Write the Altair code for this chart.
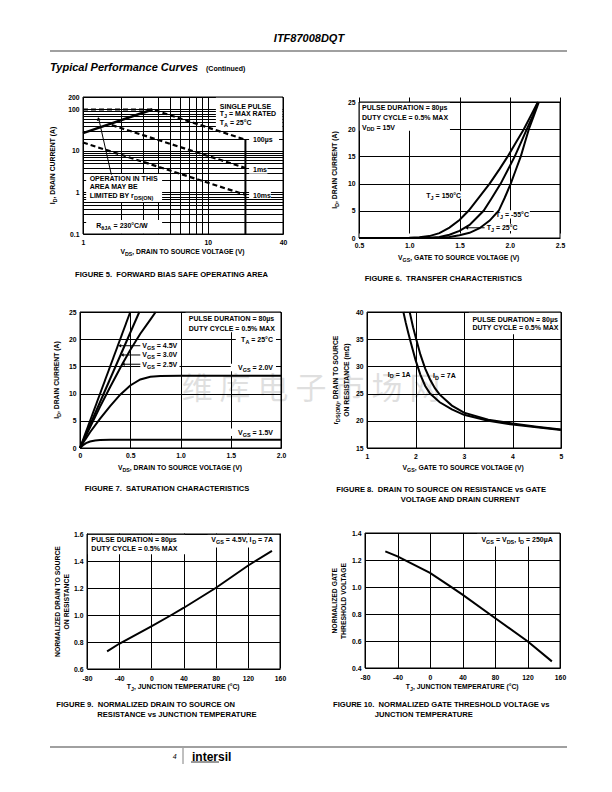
import re
import altair as alt
import pandas as pd

FONT = "Liberation Sans"
AXS = 6.8   # axis text size
ANS = 7.0   # annotation size
CAPS = 7.6  # caption size

# ---------------- data ----------------
# Figure 5 - forward bias safe operating area (log-log)
f5_x_grid = [1, 2, 3, 4, 5, 6, 7, 8, 9, 10, 40]
f5_y_grid = [0.1, 0.2, 0.3, 0.4, 0.5, 0.6, 0.7, 0.8, 0.9, 1, 2, 3, 4, 5, 6, 7, 8, 9,
             10, 20, 30, 40, 50, 60, 70, 80, 90, 100, 200]
f5_rds_v = [1.0, 3.6]
f5_rds_i = [27.0, 100.0]
f5_100us_v = [1.0, 3.6, 20.0]
f5_100us_i = [100.0, 100.0, 18.7]
f5_1ms_v = [1.7, 20.0]
f5_1ms_i = [42.0, 3.9]
f5_10ms_v = [1.0, 20.0]
f5_10ms_i = [16.0, 0.88]
f5_bv_v = [20.0, 20.0]
f5_bv_i = [18.7, 0.1]

# Figure 6 - transfer characteristics
f6_vgs_150 = [0.5, 0.9, 1.0, 1.1, 1.2, 1.3, 1.4, 1.5, 1.59, 1.7, 1.8, 1.9, 1.98, 2.06, 2.14, 2.21, 2.28]
f6_id_150 = [0, 0, 0.03, 0.12, 0.35, 0.9, 1.9, 3.3, 5, 7.6, 10, 12.7, 15, 17.5, 20, 22.5, 25]
f6_vgs_25 = [0.5, 1.1, 1.2, 1.3, 1.4, 1.5, 1.6, 1.74, 1.82, 1.91, 1.98, 2.05, 2.11, 2.17, 2.23, 2.28]
f6_id_25 = [0, 0, 0.05, 0.2, 0.6, 1.3, 2.4, 5, 7.3, 10, 12.5, 15, 17.5, 20, 22.5, 25]
f6_vgs_m55 = [0.5, 1.2, 1.3, 1.4, 1.5, 1.6, 1.7, 1.8, 1.89, 1.95, 2.01, 2.06, 2.11, 2.15, 2.19, 2.24, 2.29]
f6_id_m55 = [0, 0, 0.05, 0.2, 0.5, 0.95, 1.8, 3.2, 5, 7.4, 10, 12.5, 15, 17.5, 20, 22.5, 25]

# Figure 7 - saturation characteristics
f7_vds_45 = [0, 0.5]
f7_id_45 = [0, 25]
f7_vds_30 = [0, 0.59]
f7_id_30 = [0, 25]
f7_vds_25 = [0, 0.1, 0.2, 0.3, 0.42, 0.5, 0.6, 0.7, 0.753]
f7_id_25 = [0, 3.8, 7.6, 11.2, 15.4, 18, 21, 23.6, 25]
f7_vds_20 = [0, 0.05, 0.1, 0.2, 0.3, 0.4, 0.5, 0.6, 0.7, 0.8, 1.0, 2.0]
f7_id_20 = [0, 1.5, 2.9, 5.4, 7.7, 9.8, 11.5, 12.6, 13.1, 13.25, 13.3, 13.3]
f7_vds_15 = [0, 0.03, 0.06, 0.1, 0.15, 0.2, 0.3, 2.0]
f7_id_15 = [0, 0.5, 0.9, 1.2, 1.38, 1.45, 1.5, 1.5]

# Figure 8 - on resistance vs gate voltage
f8_vgs_1a = [1.75, 1.8, 1.85, 1.9, 2.0, 2.1, 2.2, 2.3, 2.5, 2.75, 3.0, 3.5, 4.0, 4.5, 5.0]
f8_r_1a = [40, 38, 36.2, 34.5, 31.2, 28.5, 26.4, 25, 23.4, 22.1, 21.1, 20, 19.3, 18.8, 18.3]
f8_vgs_7a = [1.88, 1.95, 2.0, 2.1, 2.2, 2.3, 2.4, 2.5, 2.75, 3.0, 3.5, 4.0, 4.5, 5.0]
f8_r_7a = [40, 37.2, 35.5, 32.2, 29.6, 27.6, 26, 24.8, 22.8, 21.5, 20.2, 19.5, 18.9, 18.4]

# Figure 9 - normalized on resistance vs temperature
f9_t = [-55, -40, 0, 25, 40, 80, 120, 150]
f9_r = [0.73, 0.787, 0.916, 1.0, 1.052, 1.2, 1.365, 1.475]

# Figure 10 - normalized threshold vs temperature
f10_t = [-55, -40, 0, 25, 40, 80, 120, 150]
f10_v = [1.264, 1.227, 1.104, 1.005, 0.943, 0.77, 0.598, 0.449]

ONE = pd.DataFrame({"k": [0]})

# Arial / Liberation Sans Bold advance widths (per 1000 em) for text layout of subscripts
AW = {" ": 278, "\u00a0": 278, "(": 333, ")": 333, ",": 278, "-": 333, ".": 278, "/": 278, "=": 584,
      "%": 889, "\u00b0": 400, "\u00b5": 611, "\u03b8": 611, "\u03a9": 768}
for _c in "0123456789":
    AW[_c] = 556
AW.update(dict(zip("ABCDEFGHIJKLMNOPQRSTUVWXYZ",
                   [722, 722, 722, 722, 667, 611, 778, 722, 278, 556, 722, 611, 833, 722, 778, 667,
                    778, 722, 667, 611, 722, 667, 944, 667, 667, 611])))
AW.update(dict(zip("abcdefghijklmnopqrstuvwxyz",
                   [556, 611, 556, 611, 556, 333, 611, 611, 278, 278, 556, 278, 889, 611, 611, 611,
                    611, 389, 556, 333, 611, 556, 778, 556, 556, 500])))


def segs_of(s):
    out = []
    pos = 0
    for m in re.finditer(r"_\{([^}]*)\}", s):
        if m.start() > pos:
            out.append((s[pos:m.start()], False))
        out.append((m.group(1), True))
        pos = m.end()
    if pos < len(s):
        out.append((s[pos:], False))
    return out


def tw(t, size):
    return sum(AW.get(c, 600) for c in t) * size / 1000.0


def place(segs, size, sub, align):
    """Return (text, is_sub, offset) with leading spaces turned into offsets."""
    widths = [tw(t, sub if b else size) for t, b in segs]
    total = sum(widths)
    off = 0 if align == "left" else (-total if align == "right" else -total / 2)
    res = []
    for (t, b), w in zip(segs, widths):
        st = t.lstrip(" ")
        lead = tw(t[:len(t) - len(st)], sub if b else size)
        if st.strip():
            res.append((st.rstrip(" "), b, off + lead))
        off += w
    return res


# ---------------- helpers ----------------
def ptext(x, y, txt, size=ANS, align="left", baseline="middle", weight="bold",
          style=None, color="black", font=FONT, opacity=None):
    kw = dict(align=align, baseline=baseline, fontSize=size, fontWeight=weight,
              font=font, color=color)
    if style:
        kw["fontStyle"] = style
    if opacity is not None:
        kw["opacity"] = opacity
    return alt.Chart(ONE).mark_text(**kw).encode(
        x=alt.value(x), y=alt.value(y), text=alt.value(txt))


def rich_px(s, x, y, size=AXS, align="center", vertical=False):
    """Text with subscripts at pixel position (x, y = cap-centre line)."""
    sub = size * 0.78
    layers = []
    for t, b, off in place(segs_of(s), size, sub, align):
        shift = 0.358 * size + (1.9 if b else 0)
        kw = dict(align="left", baseline="alphabetic", fontSize=sub if b else size,
                  font=FONT, fontWeight="bold", color="black")
        if vertical:
            kw["angle"] = 270
            px, py = x + shift, y - off
        else:
            px, py = x + off, y + shift
        layers.append(alt.Chart(ONE).mark_text(**kw).encode(
            x=alt.value(px), y=alt.value(py), text=alt.value(t)))
    return layers


def prule(x, y, x2=None, y2=None, color="black", width=1.0):
    enc = dict(x=alt.value(x), y=alt.value(y))
    if x2 is not None:
        enc["x2"] = alt.value(x2)
    if y2 is not None:
        enc["y2"] = alt.value(y2)
    return alt.Chart(ONE).mark_rule(color=color, strokeWidth=width).encode(**enc)


def PX(p, f):
    return alt.X(f + ":Q", scale=p["xs"], axis=p["xa"])


def PY(p, f):
    return alt.Y(f + ":Q", scale=p["ys"], axis=p["ya"])


def frame_layer(p, xdom, ydom):
    df = pd.DataFrame({"x0": [xdom[0]], "x1": [xdom[1]], "y0": [ydom[0]], "y1": [ydom[1]]})
    return alt.Chart(df).mark_rect(fillOpacity=0, stroke="black", strokeWidth=1).encode(
        x=PX(p, "x0"), x2="x1", y=PY(p, "y0"), y2="y1")


def boxes_layer(p, rows):
    df = pd.DataFrame(rows, columns=["x0", "x1", "y0", "y1"])
    return alt.Chart(df).mark_rect(color="white").encode(
        x=PX(p, "x0"), x2="x1", y=PY(p, "y0"), y2="y1")


def lines_layer(p, series, width=2.0, dash=None):
    frames = []
    for name, xv, yv in series:
        frames.append(pd.DataFrame({"x": xv, "y": yv, "s": name, "o": list(range(len(xv)))}))
    df = pd.concat(frames, ignore_index=True)
    kw = dict(color="black", strokeWidth=width)
    if dash:
        kw["strokeDash"] = dash
    return alt.Chart(df).mark_line(**kw).encode(
        x=PX(p, "x"), y=PY(p, "y"), detail="s:N", order="o:Q")


def rich_data(p, rows, size=ANS, align="left"):
    """rows: (text with _{sub} markup, x, y) in data coordinates."""
    layers = []
    sub = size * 0.78
    for s, x, y in rows:
        df = pd.DataFrame({"x": [x], "y": [y]})
        for t, b, off in place(segs_of(s), size, sub, align):
            layers.append(alt.Chart(df).mark_text(
                align="left", baseline="alphabetic", dx=off,
                dy=0.358 * size + (1.9 if b else 0), fontSize=sub if b else size,
                font=FONT, fontWeight="bold", color="black", text=t).encode(
                x=PX(p, "x"), y=PY(p, "y")))
    return layers


def heads_layer(p, rows, shape, angle=None, size=14):
    df = pd.DataFrame(rows, columns=["x", "y"])
    kw = dict(shape=shape, filled=True, color="black", size=size, opacity=1)
    if angle is not None:
        kw["angle"] = angle
    return alt.Chart(df).mark_point(**kw).encode(x=PX(p, "x"), y=PY(p, "y"))


def x_axis(values, pad, fmt=None, expr=None):
    kw = dict(values=values, title=None, labelPadding=pad)
    if fmt:
        kw["format"] = fmt
    if expr:
        kw["labelExpr"] = expr
    return alt.Axis(**kw)


def y_axis(values, off=0, pad=4, fmt=None, expr=None):
    kw = dict(values=values, title=None, labelPadding=pad)
    if off:
        kw["offset"] = -off
    if fmt:
        kw["format"] = fmt
    if expr:
        kw["labelExpr"] = expr
    return alt.Axis(**kw)


def spacer(w, h):
    return alt.Chart(ONE).mark_point(opacity=0).encode(
        x=alt.value(0), y=alt.value(0)).properties(width=w, height=h)


NEG = "datum.value < 0 ? '-' + format(-datum.value, 'd') : format(datum.value, 'd')"

# ---------------- Figure 5 ----------------
p5 = dict(
    xs=alt.Scale(type="log", domain=[1, 40], range=[3, 203], nice=False),
    ys=alt.Scale(type="log", domain=[0.1, 200], range=[137, 0], nice=False),
    xa=x_axis(f5_x_grid, 5, fmt="~g",
              expr="(datum.value == 1 || datum.value == 10 || datum.value == 40) ? datum.label : ''"),
    ya=y_axis(f5_y_grid, off=3, fmt="~g",
              expr="(datum.value == 0.1 || datum.value == 1 || datum.value == 10 || datum.value == 100 || datum.value == 200) ? datum.label : ''"),
)
fig5 = alt.layer(
    boxes_layer(p5, [(11.6, 39.6, 35.8, 198), (21.4, 37.2, 14.7, 24), (21.4, 30, 2.85, 4.45),
                     (21.4, 32, 0.7, 1.06), (1.06, 4.3, 0.59, 2.79), (1.06, 4.3, 0.101, 0.217)]),
    frame_layer(p5, [1, 40], [0.1, 200]),
    lines_layer(p5, [("100us", f5_100us_v, f5_100us_i), ("1ms", f5_1ms_v, f5_1ms_i),
                     ("10ms", f5_10ms_v, f5_10ms_i)], width=2.2, dash=[5, 3]),
    lines_layer(p5, [("rds", f5_rds_v, f5_rds_i)], width=2.5),
    lines_layer(p5, [("bv", f5_bv_v, f5_bv_i)], width=2.0),
    lines_layer(p5, [("arrow", [1.687, 1.34], [2.68, 58.0])], width=1.0),
    heads_layer(p5, [(1.33, 60.0)], "triangle-up", angle=347, size=18),
    *rich_data(p5, [("SINGLE PULSE", 12.46, 119.5), ("T_{J} = MAX RATED", 12.46, 79.2),
                    ("T_{A} = 25\u00b0C", 12.46, 49.2), ("100\u00b5s", 23.0, 18.7),
                    ("1ms", 23.0, 3.55), ("10ms", 23.0, 0.86),
                    ("OPERATION IN THIS", 1.13, 2.15), ("AREA MAY BE", 1.13, 1.36),
                    ("LIMITED BY r_{DS(ON)}", 1.13, 0.837), ("R_{\u03b8JA} = 230\u00b0C/W", 1.278, 0.162)]),
    *rich_px("V_{DS}, DRAIN TO SOURCE VOLTAGE (V)", 103, 155),
    *rich_px("I_{D}, DRAIN CURRENT (A)", -27, 68.5, vertical=True),
    ptext(-5, 177.7, "FIGURE 5.\u00a0 FORWARD BIAS SAFE OPERATING AREA", size=CAPS),
).properties(width=203, height=137)

# ---------------- Figure 6 ----------------
p6 = dict(
    xs=alt.Scale(domain=[0.5, 2.5], range=[0, 201], nice=False, zero=False),
    ys=alt.Scale(domain=[0, 25], range=[141, 5], nice=False),
    xa=x_axis([0.5, 1.0, 1.5, 2.0, 2.5], 4, fmt=".1f"),
    ya=y_axis([0, 5, 10, 15, 20, 25], fmt="d"),
)
fig6 = alt.layer(
    boxes_layer(p6, [(0.505, 1.405, 19.7, 24.9), (1.14, 1.56, 7.2, 8.6), (1.84, 2.2, 3.6, 5.1),
                     (1.76, 2.11, 1.3, 2.6)]),
    frame_layer(p6, [0.5, 2.5], [0, 25]),
    lines_layer(p6, [("150", f6_vgs_150, f6_id_150), ("25", f6_vgs_25, f6_id_25),
                     ("m55", f6_vgs_m55, f6_id_m55)], width=2.0),
    lines_layer(p6, [("arrow", [1.75, 1.58], [1.88, 1.88])], width=1.0),
    heads_layer(p6, [(1.57, 1.88)], "triangle-left", size=14),
    *rich_data(p6, [("PULSE DURATION = 80\u00b5s", 0.53, 23.9), ("DUTY CYCLE = 0.5% MAX", 0.53, 22.06),
                    ("V_{DD} = 15V", 0.53, 20.4), ("T_{J} = 150\u00b0C", 1.17, 7.85),
                    ("T_{J} = -55\u00b0C", 1.86, 4.29), ("T_{J} = 25\u00b0C", 1.77, 1.96)]),
    *rich_px("V_{GS}, GATE TO SOURCE VOLTAGE (V)", 100.5, 160.3),
    *rich_px("I_{D}, DRAIN CURRENT (A)", -24.3, 73, vertical=True),
    ptext(5.7, 181.7, "FIGURE 6.\u00a0 TRANSFER CHARACTERISTICS", size=CAPS),
).properties(width=201, height=141)

# ---------------- Figure 7 ----------------
p7 = dict(
    xs=alt.Scale(domain=[0, 2], range=[0, 201], nice=False),
    ys=alt.Scale(domain=[0, 25], range=[136, 0], nice=False),
    xa=x_axis([0, 0.5, 1.0, 1.5, 2.0], 4, expr="datum.value == 0 ? '0' : format(datum.value, '.1f')"),
    ya=y_axis([0, 5, 10, 15, 20, 25], fmt="d"),
)
fig7 = alt.layer(
    boxes_layer(p7, [(1.05, 1.99, 21.3, 24.9), (1.55, 1.95, 19.2, 20.7), (0.6, 0.99, 14.4, 19.6),
                     (1.5, 1.95, 14.1, 15.5), (1.5, 1.95, 2.2, 3.6)]),
    ptext(231, 78, "\u7ef4 \u5e93 \u7535 \u5b50 \u5e02 \u573a \u7f51", size=31, align="center",
          weight="normal", font="Noto Sans CJK SC", color="black", opacity=0.12),
    frame_layer(p7, [0, 2], [0, 25]),
    lines_layer(p7, [("45", f7_vds_45, f7_id_45), ("30", f7_vds_30, f7_id_30),
                     ("25", f7_vds_25, f7_id_25), ("20", f7_vds_20, f7_id_20),
                     ("15", f7_vds_15, f7_id_15)], width=2.0),
    lines_layer(p7, [("a1", [0.6, 0.4], [18.8, 18.8]), ("a2", [0.6, 0.425], [17.1, 17.1]),
                     ("a3", [0.6, 0.435], [15.4, 15.4])], width=1.0),
    heads_layer(p7, [(0.395, 18.8), (0.42, 17.1), (0.43, 15.4)], "triangle-left", size=12),
    *rich_data(p7, [("V_{GS} = 4.5V", 0.62, 18.8), ("V_{GS} = 3.0V", 0.62, 17.1),
                    ("V_{GS} = 2.5V", 0.62, 15.4)]),
    *rich_data(p7, [("PULSE DURATION = 80\u00b5s", 1.94, 23.8), ("DUTY CYCLE = 0.5% MAX", 1.94, 22.0),
                    ("T_{A} = 25\u00b0C", 1.92, 19.9), ("V_{GS} = 2.0V", 1.92, 14.8),
                    ("V_{GS} = 1.5V", 1.92, 2.9)], align="right"),
    *rich_px("V_{DS}, DRAIN TO SOURCE VOLTAGE (V)", 100.5, 155.3),
    *rich_px("I_{D}, DRAIN CURRENT (A)", -23.7, 68, vertical=True),
    ptext(4.7, 177, "FIGURE 7.\u00a0 SATURATION CHARACTERISTICS", size=CAPS),
).properties(width=201, height=136)

# ---------------- Figure 8 ----------------
p8 = dict(
    xs=alt.Scale(domain=[1, 5], range=[8, 202], nice=False, zero=False),
    ys=alt.Scale(domain=[15, 40], range=[136, 0], nice=False, zero=False),
    xa=x_axis([1, 2, 3, 4, 5], 5, fmt="d"),
    ya=y_axis([15, 20, 25, 30, 35, 40], off=8, fmt="d"),
)
fig8 = alt.layer(
    boxes_layer(p8, [(3.1, 4.99, 35.9, 39.9)]),
    frame_layer(p8, [1, 5], [15, 40]),
    lines_layer(p8, [("1a", f8_vgs_1a, f8_r_1a), ("7a", f8_vgs_7a, f8_r_7a)], width=2.0),
    *rich_data(p8, [("I_{D} = 1A", 1.43, 28.6), ("I_{D} = 7A", 2.36, 28.3)]),
    *rich_data(p8, [("PULSE DURATION = 80\u00b5s", 4.95, 38.7), ("DUTY CYCLE = 0.5% MAX", 4.95, 37.2)],
               align="right"),
    *rich_px("V_{GS}, GATE TO SOURCE VOLTAGE (V)", 105, 155.3),
    *rich_px("r_{DS(ON)}, DRAIN TO SOURCE", -23.4, 68, vertical=True),
    *rich_px("ON RESISTANCE (m\u03a9)", -12.1, 68, vertical=True),
    ptext(-22.7, 177.7, "FIGURE 8.\u00a0 DRAIN TO SOURCE ON RESISTANCE vs GATE", size=CAPS),
    ptext(41.7, 187.7, "VOLTAGE AND DRAIN CURRENT", size=CAPS),
).properties(width=202, height=136)

# ---------------- Figure 9 ----------------
p9 = dict(
    xs=alt.Scale(domain=[-80, 160], range=[7, 200], nice=False, zero=False),
    ys=alt.Scale(domain=[0.6, 1.6], range=[136, 1], nice=False, zero=False),
    xa=x_axis([-80, -40, 0, 40, 80, 120, 160], 6, expr=NEG),
    ya=y_axis([0.6, 0.8, 1.0, 1.2, 1.4, 1.6], off=7, fmt=".1f"),
)
fig9 = alt.layer(
    boxes_layer(p9, [(-79, 42, 1.45, 1.595), (70, 159, 1.5, 1.595)]),
    frame_layer(p9, [-80, 160], [0.6, 1.6]),
    lines_layer(p9, [("r", f9_t, f9_r)], width=2.0),
    *rich_data(p9, [("PULSE DURATION = 80\u00b5s", -74.6, 1.558), ("DUTY CYCLE = 0.5% MAX", -74.6, 1.489)]),
    *rich_data(p9, [("V_{GS} = 4.5V, I_{D} = 7A", 151.3, 1.558)], align="right"),
    *rich_px("T_{J}, JUNCTION TEMPERATURE (\u00b0C)", 103.5, 154),
    *rich_px("NORMALIZED DRAIN TO SOURCE", -22.1, 68.5, vertical=True),
    *rich_px("ON RESISTANCE", -13.6, 68.5, vertical=True),
    ptext(-23.7, 171.7, "FIGURE 9.\u00a0 NORMALIZED DRAIN TO SOURCE ON", size=CAPS),
    ptext(17.3, 182, "RESISTANCE vs JUNCTION TEMPERATURE", size=CAPS),
).properties(width=200, height=136)

# ---------------- Figure 10 ----------------
p10 = dict(
    xs=alt.Scale(domain=[-80, 160], range=[6, 201], nice=False, zero=False),
    ys=alt.Scale(domain=[0.4, 1.4], range=[135, 0], nice=False, zero=False),
    xa=x_axis([-80, -40, 0, 40, 80, 120, 160], 6, expr=NEG),
    ya=y_axis([0.4, 0.6, 0.8, 1.0, 1.2, 1.4], off=6, fmt=".1f"),
)
fig10 = alt.layer(
    boxes_layer(p10, [(58, 159, 1.3, 1.395)]),
    frame_layer(p10, [-80, 160], [0.4, 1.4]),
    lines_layer(p10, [("v", f10_t, f10_v)], width=2.0),
    *rich_data(p10, [("V_{GS} = V_{DS}, I_{D} = 250\u00b5A", 151.4, 1.35)], align="right"),
    *rich_px("T_{J}, JUNCTION TEMPERATURE (\u00b0C)", 103.5, 154),
    *rich_px("NORMALIZED GATE", -24.3, 67.5, vertical=True),
    *rich_px("THRESHOLD VOLTAGE", -15.3, 67.5, vertical=True),
    ptext(-26, 171.7, "FIGURE 10.\u00a0 NORMALIZED GATE THRESHOLD VOLTAGE vs", size=CAPS),
    ptext(15.7, 182, "JUNCTION TEMPERATURE", size=CAPS),
).properties(width=201, height=135)

# ---------------- header / footer ----------------
header = alt.layer(
    ptext(298, 31, "ITF87008DQT", size=11, align="center", baseline="alphabetic", style="italic"),
    prule(39, 40, x2=556, color="#808080", width=1.5),
    ptext(39, 60, "Typical Performance Curves", size=11, baseline="alphabetic", style="italic"),
    ptext(195, 60, "(Continued)", size=7, baseline="alphabetic"),
).properties(width=69, height=86)

footer = alt.layer(
    prule(39, 78, x2=556, color="#808080", width=1.5),
    ptext(163.7, 88, "4", size=7, align="center", weight="normal", style="italic"),
    prule(172, 79, y2=95, color="#808080", width=1.0),
    ptext(181, 88, "intersil", size=12),
    prule(180, 93, x2=208, color="black", width=0.8),
).properties(width=69, height=96)

cells = [
    header, spacer(1, 86), spacer(1, 86), spacer(1, 86),
    spacer(69, 141), fig5, spacer(76, 141), fig6,
    spacer(1, 74), spacer(1, 74), spacer(1, 74), spacer(1, 74),
    spacer(69, 136), fig7, spacer(76, 136), fig8,
    spacer(1, 85), spacer(1, 85), spacer(1, 85), spacer(1, 85),
    spacer(69, 136), fig9, spacer(76, 136), fig10,
    footer, spacer(1, 96), spacer(1, 96), spacer(1, 96),
]

chart = alt.concat(
    *cells, columns=4, spacing=0, bounds="flush", align="each",
).properties(padding=0, background="white").configure_view(
    strokeWidth=0
).configure_axis(
    grid=True, gridColor="black", gridOpacity=1, gridWidth=1, domain=False, ticks=False,
    labelFont=FONT, labelFontSize=AXS, labelFontWeight="bold", labelColor="black",
    labelFlush=False, labelOverlap=False,
)

chart.save("out.html", embed_options={"renderer": "svg", "actions": False})
